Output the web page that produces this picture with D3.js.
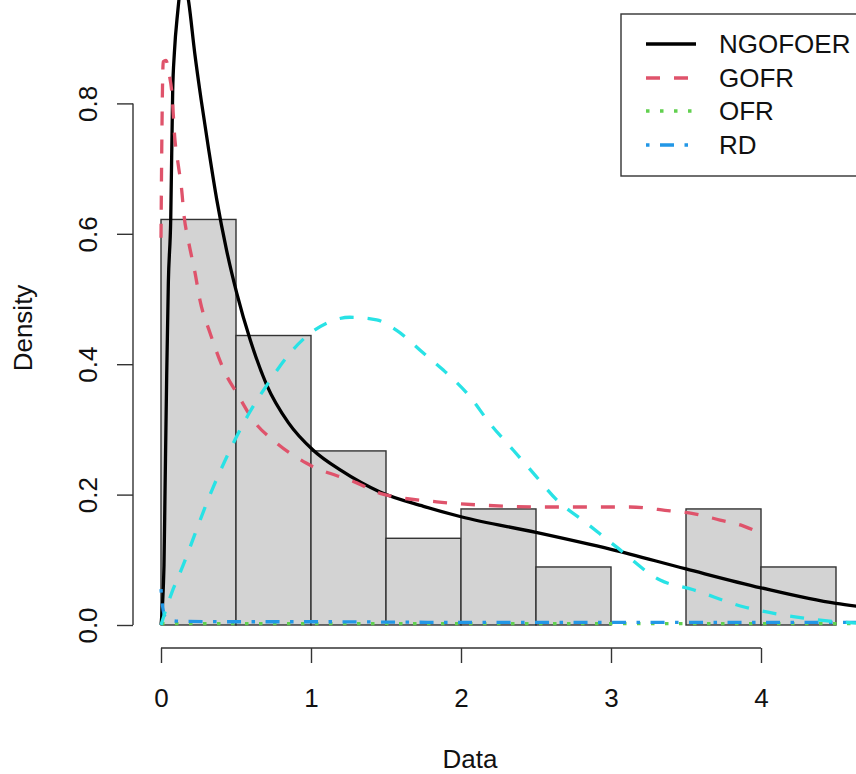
<!DOCTYPE html>
<html>
<head>
<meta charset="utf-8">
<script src="https://cdn.jsdelivr.net/npm/d3@7"></script>
<style>
  body { margin: 0; background: #fff; }
  svg text { font-family: "Liberation Sans", Arial, sans-serif; fill: #111; }
</style>
</head>
<body>
<svg id="chart" width="856" height="774"></svg>
<script>
// histogram (bins of 0.5, density scale)
var binEdges = [0, 0.5, 1, 1.5, 2, 2.5, 3, 3.5, 4, 4.5];
var density  = [0.622, 0.444, 0.267, 0.133, 0.178, 0.089, 0, 0.178, 0.089];

var xTicks = [0, 1, 2, 3, 4];
var yTicks = [0, 0.2, 0.4, 0.6, 0.8];
var yTickLabels = ["0.0", "0.2", "0.4", "0.6", "0.8"];

var seriesNames  = ["NGOFOER", "GOFR", "OFR", "RD"];
var seriesColors = ["#000000", "#DF536B", "#61D04F", "#2297E6"];
var seriesDash   = [null, "14,14", "3.5,10.5", "3.5,10.5,14,10.5"];

// fitted densities
var ngofoerX = [0, 0.02, 0.027, 0.038, 0.049, 0.065, 0.078, 0.089, 0.111, 0.15, 0.185, 0.225, 0.268, 0.318, 0.372, 0.437, 0.505, 0.595, 0.705, 0.85, 1.015, 1.2, 1.46, 1.75, 2.0, 2.5, 3.0, 3.5, 4.0, 4.5, 4.7];
var ngofoerY = [0, 0.092, 0.207, 0.383, 0.525, 0.624, 0.82, 0.877, 0.939, 1.0, 0.955, 0.877, 0.805, 0.729, 0.652, 0.575, 0.509, 0.437, 0.368, 0.31, 0.268, 0.237, 0.204, 0.182, 0.166, 0.142, 0.116, 0.086, 0.057, 0.033, 0.027];

var gofrX = [0, 0.005, 0.015, 0.033, 0.055, 0.071, 0.093, 0.115, 0.138, 0.153, 0.182, 0.227, 0.26, 0.327, 0.427, 0.505, 0.615, 0.771, 0.971, 1.305, 1.46, 1.838, 2.127, 2.571, 3.127, 3.393, 3.547, 3.727, 3.88, 4.02];
var gofrY = [0.594, 0.73, 0.864, 0.866, 0.844, 0.82, 0.744, 0.706, 0.667, 0.629, 0.59, 0.54, 0.498, 0.448, 0.387, 0.356, 0.314, 0.279, 0.248, 0.218, 0.202, 0.189, 0.184, 0.181, 0.181, 0.175, 0.171, 0.161, 0.152, 0.138];

var ofrX = [0, 0.5, 1, 1.5, 2, 2.5, 3, 3.5, 4, 4.7];
var ofrY = [0.002, 0.002, 0.002, 0.002, 0.002, 0.002, 0.002, 0.002, 0.002, 0.002];

var rdX = [0, 0.01, 0.03, 0.1, 0.5, 1, 2, 3, 4, 4.7];
var rdY = [0.055, 0.03, 0.012, 0.006, 0.005, 0.005, 0.004, 0.004, 0.004, 0.004];

// extra cyan curve (not in legend)
var cyanX = [0, 0.071, 0.127, 0.349, 0.493, 0.593, 0.715, 0.86, 0.982, 1.105, 1.26, 1.438, 1.571, 1.749, 1.882, 2.06, 2.193, 2.349, 2.482, 2.638, 2.838, 3.04, 3.327, 3.549, 3.882, 4.215, 4.505, 4.7];
var cyanY = [0, 0.049, 0.08, 0.212, 0.284, 0.327, 0.371, 0.417, 0.445, 0.463, 0.472, 0.468, 0.452, 0.417, 0.391, 0.35, 0.309, 0.268, 0.233, 0.192, 0.156, 0.119, 0.069, 0.054, 0.028, 0.013, 0.005, 0.002];

var svg = d3.select("#chart");
var fontSize = 26;

var x = d3.scaleLinear().domain([0, 4]).range([161, 761]);
var y = d3.scaleLinear().domain([0, 0.8]).range([625, 103.4]);

svg.append("rect").attr("width", 856).attr("height", 774).attr("fill", "#fff");

svg.append("clipPath").attr("id", "plotClip")
  .append("rect").attr("x", 133).attr("y", 0).attr("width", 723).attr("height", 648);

var plot = svg.append("g").attr("clip-path", "url(#plotClip)");

// bars
plot.selectAll("rect.bar")
    .data(density)
  .enter().append("rect")
    .attr("class", "bar")
    .attr("x", function(d, i) { return x(binEdges[i]); })
    .attr("width", function(d, i) { return x(binEdges[i + 1]) - x(binEdges[i]); })
    .attr("y", function(d) { return y(d); })
    .attr("height", function(d) { return y(0) - y(d); })
    .attr("fill", "#D3D3D3")
    .attr("stroke", "#333")
    .attr("stroke-width", 1.4);

var line = d3.line()
    .x(function(d) { return x(d[0]); })
    .y(function(d) { return y(d[1]); })
    .curve(d3.curveMonotoneX);

function drawCurve(xs, ys, color, dash) {
  var pts = xs.map(function(v, i) { return [v, ys[i]]; });
  var p = plot.append("path")
      .datum(pts)
      .attr("d", line)
      .attr("fill", "none")
      .attr("stroke", color)
      .attr("stroke-width", 3.3);
  if (dash) p.attr("stroke-dasharray", dash);
}

drawCurve(ngofoerX, ngofoerY, seriesColors[0], seriesDash[0]);
drawCurve(gofrX, gofrY, seriesColors[1], seriesDash[1]);
drawCurve(ofrX, ofrY, seriesColors[2], seriesDash[2]);
drawCurve(rdX, rdY, seriesColors[3], seriesDash[3]);
drawCurve(cyanX, cyanY, "#28E2E5", "14,14");

// axes
var xAxis = d3.axisBottom(x).tickValues(xTicks).tickSize(15).tickSizeOuter(0).tickFormat(d3.format("d"));
var gx = svg.append("g")
    .attr("transform", "translate(0,648)")
    .call(xAxis);
gx.select(".domain").attr("d", "M" + x(0) + ",0H" + x(4)).attr("stroke", "#333").attr("stroke-width", 1.4);
gx.selectAll(".tick line").attr("stroke", "#333").attr("stroke-width", 1.4);
gx.selectAll(".tick text")
    .attr("y", 59).attr("dy", 0)
    .style("font-size", fontSize + "px")
    .style("font-family", "Liberation Sans, Arial, sans-serif")
    .attr("fill", "#111");

var yAxis = d3.axisLeft(y).tickValues(yTicks).tickSize(16).tickSizeOuter(0)
    .tickFormat(function(d, i) { return yTickLabels[i]; });
var gy = svg.append("g")
    .attr("transform", "translate(133,0)")
    .call(yAxis);
gy.select(".domain").attr("d", "M0," + y(0) + "V" + y(0.8)).attr("stroke", "#333").attr("stroke-width", 1.4);
gy.selectAll(".tick line").attr("stroke", "#333").attr("stroke-width", 1.4);
gy.selectAll(".tick text")
    .attr("x", 0).attr("dy", 0)
    .attr("text-anchor", "middle")
    .attr("transform", "translate(-36,0) rotate(-90)")
    .style("font-size", fontSize + "px")
    .style("font-family", "Liberation Sans, Arial, sans-serif")
    .attr("fill", "#111");

// axis titles
svg.append("text")
    .attr("x", 470).attr("y", 768)
    .attr("text-anchor", "middle")
    .style("font-size", fontSize + "px")
    .text("Data");

svg.append("text")
    .attr("transform", "translate(32,328) rotate(-90)")
    .attr("text-anchor", "middle")
    .style("font-size", fontSize + "px")
    .text("Density");

// legend
var legend = svg.append("g");
legend.append("rect")
    .attr("x", 621).attr("y", 14).attr("width", 260).attr("height", 162)
    .attr("fill", "#fff").attr("stroke", "#333").attr("stroke-width", 1.4);

var rowY = [44, 78, 111, 145];
seriesNames.forEach(function(name, i) {
  var l = legend.append("line")
      .attr("x1", 646).attr("x2", 696)
      .attr("y1", rowY[i]).attr("y2", rowY[i])
      .attr("stroke", seriesColors[i]).attr("stroke-width", 3.3);
  if (seriesDash[i]) l.attr("stroke-dasharray", seriesDash[i]);
  legend.append("text")
      .attr("x", 719).attr("y", rowY[i]).attr("dy", "0.36em")
      .style("font-size", fontSize + "px")
      .text(name);
});
</script>
</body>
</html>
